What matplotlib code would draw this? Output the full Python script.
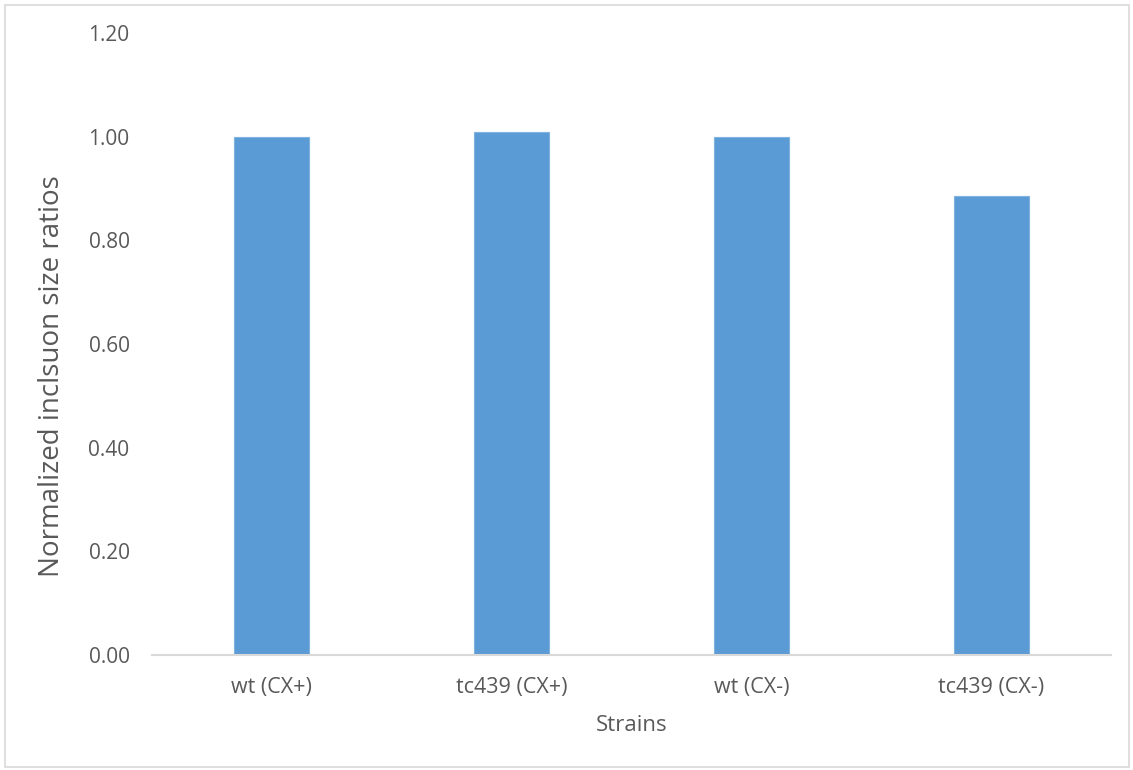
import matplotlib
matplotlib.use("Agg")
import matplotlib.pyplot as plt
from matplotlib.patches import Rectangle

strains = ["wt (CX+)", "tc439 (CX+)", "wt (CX-)", "tc439 (CX-)"]
ratios = [1.00, 1.01, 1.00, 0.885]
yticks = [0.0, 0.2, 0.4, 0.6, 0.8, 1.0, 1.2]

plt.rcParams['font.family'] = ['Open Sans', 'DejaVu Sans']
text_col = '#595959'

fig = plt.figure(figsize=(11.33, 7.7), dpi=100)
ax = fig.add_axes([0.134, 0.1494, 0.8466, 0.8076])

x = range(len(strains))
ax.bar(x, ratios, width=0.3125, color='#5b9bd5', edgecolor='#7fb2e0', linewidth=0.8, zorder=2)

ax.set_xlim(-0.5, len(strains) - 0.5)
ax.set_ylim(0, 1.2)
ax.set_yticks(yticks)
ax.set_yticklabels([f"{v:.2f}" for v in yticks])
ax.set_xticks(list(x))
ax.set_xticklabels(strains)

for s in ['top', 'right', 'left']:
    ax.spines[s].set_visible(False)
ax.spines['bottom'].set_color('#d9d9d9')
ax.spines['bottom'].set_linewidth(1.5)
ax.spines['bottom'].set_zorder(3)

ax.tick_params(axis='y', length=0, pad=16, labelsize=15, labelcolor=text_col)
ax.tick_params(axis='x', length=0, pad=16, labelsize=15.5, labelcolor=text_col)

ax.set_xlabel("Strains", fontsize=16, color=text_col, labelpad=12)
ax.set_ylabel("Normalized inclsuon size ratios", fontsize=20, color=text_col)
ax.yaxis.set_label_coords(-0.089, 0.449)

# chart border
fig.patches.append(Rectangle((5 / 1133, 3 / 770), 1124 / 1133, 762 / 770,
                             transform=fig.transFigure, fill=False,
                             edgecolor='#d9d9d9', linewidth=1.2))

fig.savefig("out.png", dpi=100)
